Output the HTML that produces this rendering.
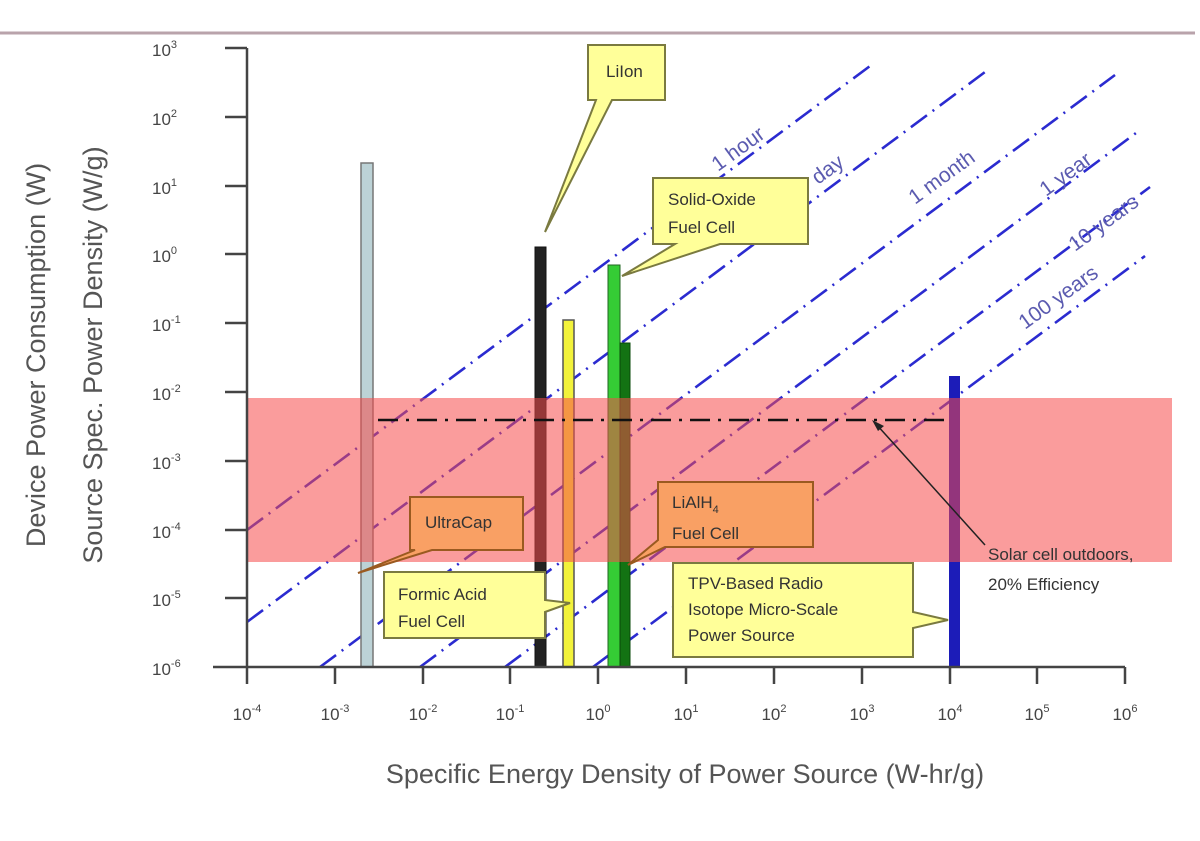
<!DOCTYPE html>
<html><head><meta charset="utf-8"><style>
html,body{margin:0;padding:0;background:#fff;}
svg{display:block;}
text{font-family:"Liberation Sans",sans-serif;}
</style></head><body>
<svg width="1200" height="841" viewBox="0 0 1200 841" xmlns="http://www.w3.org/2000/svg">
<rect width="1200" height="841" fill="#fff"/>
<line x1="0" y1="33" x2="1195" y2="33" stroke="#b9a3ab" stroke-width="3"/>

<!-- diagonal lines -->
<g stroke="#2b2bd0" stroke-width="2.6" fill="none" stroke-dasharray="20,7,2,7">
<line x1="247" y1="530" x2="870" y2="66"/>
<line x1="247" y1="622" x2="985" y2="72"/>
<line x1="320" y1="667" x2="1115" y2="75"/>
<line x1="420" y1="667" x2="1140" y2="130"/>
<line x1="505" y1="667" x2="1150" y2="187"/>
<line x1="593" y1="667" x2="1145" y2="256"/>
</g>
<g fill="#5b5bb0" font-size="21">
<text transform="translate(718,172) rotate(-36)">1 hour</text>
<text transform="translate(818,185) rotate(-36)">day</text>
<text transform="translate(915,205) rotate(-36)">1 month</text>
<text transform="translate(1046,197) rotate(-36)">1 year</text>
<text transform="translate(1075,252) rotate(-36)">10 years</text>
<text transform="translate(1025,330) rotate(-36)">100 years</text>
</g>

<!-- bars -->
<rect x="361" y="163" width="12" height="504" fill="#bcd2d6" stroke="#777" stroke-width="1.5"/>
<rect x="535" y="247" width="11" height="420" fill="#222" stroke="#111"/>
<rect x="563" y="320" width="11" height="347" fill="#f2f23a" stroke="#555" stroke-width="1.5"/>
<rect x="608" y="265" width="12" height="402" fill="#35cc35" stroke="#226622"/>
<rect x="620" y="343" width="10" height="324" fill="#137313" stroke="#0a4a0a"/>
<rect x="949" y="376" width="11" height="291" fill="#1c1cb8"/>

<!-- band -->
<rect x="247" y="398" width="925" height="164" fill="#f54a4a" fill-opacity="0.55"/>

<line x1="378" y1="420" x2="948" y2="420" stroke="#111" stroke-width="2.5" stroke-dasharray="20,8,3,8"/>
<line x1="985" y1="545" x2="876" y2="424" stroke="#222" stroke-width="1.5"/>
<polygon points="872,420 884,426 878,431" fill="#222"/>

<!-- axes -->
<g stroke="#444" stroke-width="2.5">
<line x1="247" y1="48" x2="247" y2="667"/>
<line x1="213" y1="667" x2="1125" y2="667"/>
<line x1="225" y1="48" x2="247" y2="48"/>
<line x1="225" y1="117" x2="247" y2="117"/>
<line x1="225" y1="186" x2="247" y2="186"/>
<line x1="225" y1="254" x2="247" y2="254"/>
<line x1="225" y1="323" x2="247" y2="323"/>
<line x1="225" y1="392" x2="247" y2="392"/>
<line x1="225" y1="461" x2="247" y2="461"/>
<line x1="225" y1="530" x2="247" y2="530"/>
<line x1="225" y1="598" x2="247" y2="598"/>
<line x1="247" y1="667" x2="247" y2="684"/>
<line x1="335" y1="667" x2="335" y2="684"/>
<line x1="423" y1="667" x2="423" y2="684"/>
<line x1="510" y1="667" x2="510" y2="684"/>
<line x1="598" y1="667" x2="598" y2="684"/>
<line x1="686" y1="667" x2="686" y2="684"/>
<line x1="774" y1="667" x2="774" y2="684"/>
<line x1="862" y1="667" x2="862" y2="684"/>
<line x1="950" y1="667" x2="950" y2="684"/>
<line x1="1037" y1="667" x2="1037" y2="684"/>
<line x1="1125" y1="667" x2="1125" y2="684"/>
</g>
<g fill="#444" font-size="17">
<text x="152" y="56">10<tspan font-size="11" dy="-8">3</tspan></text>
<text x="152" y="125">10<tspan font-size="11" dy="-8">2</tspan></text>
<text x="152" y="194">10<tspan font-size="11" dy="-8">1</tspan></text>
<text x="152" y="262">10<tspan font-size="11" dy="-8">0</tspan></text>
<text x="152" y="331">10<tspan font-size="11" dy="-8">-1</tspan></text>
<text x="152" y="400">10<tspan font-size="11" dy="-8">-2</tspan></text>
<text x="152" y="469">10<tspan font-size="11" dy="-8">-3</tspan></text>
<text x="152" y="538">10<tspan font-size="11" dy="-8">-4</tspan></text>
<text x="152" y="606">10<tspan font-size="11" dy="-8">-5</tspan></text>
<text x="152" y="675">10<tspan font-size="11" dy="-8">-6</tspan></text>
</g>
<g fill="#444" font-size="17" text-anchor="middle">
<text x="247" y="720">10<tspan font-size="11" dy="-8">-4</tspan></text>
<text x="335" y="720">10<tspan font-size="11" dy="-8">-3</tspan></text>
<text x="423" y="720">10<tspan font-size="11" dy="-8">-2</tspan></text>
<text x="510" y="720">10<tspan font-size="11" dy="-8">-1</tspan></text>
<text x="598" y="720">10<tspan font-size="11" dy="-8">0</tspan></text>
<text x="686" y="720">10<tspan font-size="11" dy="-8">1</tspan></text>
<text x="774" y="720">10<tspan font-size="11" dy="-8">2</tspan></text>
<text x="862" y="720">10<tspan font-size="11" dy="-8">3</tspan></text>
<text x="950" y="720">10<tspan font-size="11" dy="-8">4</tspan></text>
<text x="1037" y="720">10<tspan font-size="11" dy="-8">5</tspan></text>
<text x="1125" y="720">10<tspan font-size="11" dy="-8">6</tspan></text>
</g>
<text x="685" y="783" font-size="27" fill="#555" text-anchor="middle">Specific Energy Density of Power Source (W-hr/g)</text>
<text transform="translate(45,355) rotate(-90)" font-size="27" fill="#555" text-anchor="middle">Device Power Consumption (W)</text>
<text transform="translate(102,355) rotate(-90)" font-size="27" fill="#555" text-anchor="middle">Source Spec. Power Density (W/g)</text>

<!-- callouts -->
<g stroke="#7a7a40" stroke-width="2" fill="#ffff99">
<path d="M588,45 H665 V100 H612 L545,232 L596,100 H588 Z"/>
<path d="M653,178 H808 V244 H720 L622,276 L675,244 H653 Z"/>
<path d="M384,572 H545 V600 L570,603 L545,612 V638 H384 Z"/>
<path d="M673,563 H913 V612 L948,620 L913,628 V657 H673 Z"/>
</g>
<g stroke="#9a5a20" stroke-width="2" fill="#f9a064">
<path d="M410,497 H523 V550 H432 L358,573 L415,550 H410 Z"/>
<path d="M658,482 H813 V547 H665 L628,565 L658,540 Z"/>
</g>
<g fill="#333" font-size="17">
<text x="606" y="77">LiIon</text>
<text x="668" y="205">Solid-Oxide</text>
<text x="668" y="233">Fuel Cell</text>
<text x="425" y="528">UltraCap</text>
<text x="672" y="508">LiAlH<tspan font-size="11" dy="5">4</tspan></text>
<text x="672" y="539">Fuel Cell</text>
<text x="398" y="600">Formic Acid</text>
<text x="398" y="627">Fuel Cell</text>
<text x="688" y="589">TPV-Based Radio</text>
<text x="688" y="615">Isotope Micro-Scale</text>
<text x="688" y="641">Power Source</text>
<text x="988" y="560">Solar cell outdoors,</text>
<text x="988" y="590">20% Efficiency</text>
</g>
</svg>
</body></html>
